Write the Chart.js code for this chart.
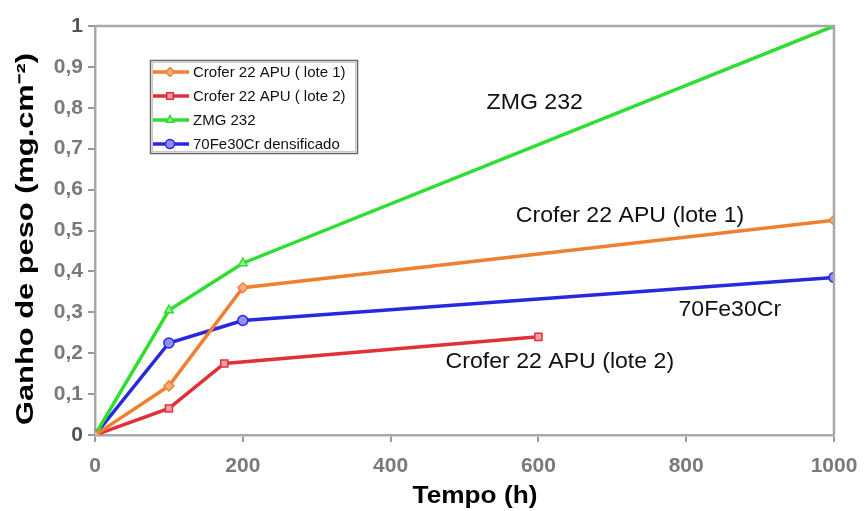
<!DOCTYPE html>
<html><head><meta charset="utf-8">
<script src="https://cdn.jsdelivr.net/npm/chart.js@4"></script>
<style>html,body{margin:0;padding:0;background:#fff;}#wrap{width:864px;height:511px;}</style>
</head><body><div id="wrap"><canvas id="c" width="864" height="511"></canvas></div>
<script>
const seriesNames = ["Crofer 22 APU ( lote 1)", "Crofer 22 APU ( lote 2)", "ZMG 232", "70Fe30Cr densificado"];
const lote1Hours = [0, 100, 200, 1000];
const lote1Gain = [0, 0.12, 0.36, 0.525];
const lote2Hours = [0, 100, 175, 600];
const lote2Gain = [0, 0.065, 0.175, 0.24];
const zmgHours = [0, 100, 200, 1000];
const zmgGain = [0, 0.305, 0.42, 1.0];
const feCrHours = [0, 100, 200, 1000];
const feCrGain = [0, 0.225, 0.28, 0.385];
const xTicks = [0, 200, 400, 600, 800, 1000];
const yTicks = ["0", "0,1", "0,2", "0,3", "0,4", "0,5", "0,6", "0,7", "0,8", "0,9", "1"];
const xTitle = "Tempo (h)";
const yTitle = "Ganho de peso (mg.cm⁻²)";
const annotations = [
  {text: "ZMG 232", x: 595, y: 0.812},
  {text: "Crofer 22 APU (lote 1)", x: 724, y: 0.535},
  {text: "70Fe30Cr", x: 859, y: 0.306},
  {text: "Crofer 22 APU (lote 2)", x: 629, y: 0.178}
];

const colors = ["#EE8030", "#E03038", "#30DD30", "#2828E0"];
const fills = ["#F6B080", "#F4A0A8", "#90F090", "#9090F0"];
const shapes = ["rectRot", "rect", "triangle", "circle"];
const FONT = '"Liberation Sans", Arial, sans-serif';

function pts(xs, ys){ return xs.map((x,i)=>({x:x, y:ys[i]})); }
const allData = [pts(lote1Hours,lote1Gain), pts(lote2Hours,lote2Gain), pts(zmgHours,zmgGain), pts(feCrHours,feCrGain)];

const frame = {
  id: 'frame',
  afterDraw(chart){
    const ctx = chart.ctx, a = chart.chartArea;
    ctx.save();
    ctx.strokeStyle = '#A8A8A8'; ctx.lineWidth = 2.5;
    ctx.beginPath();
    ctx.moveTo(a.left, a.top); ctx.lineTo(a.right, a.top); ctx.lineTo(a.right, a.bottom);
    ctx.stroke();
    // annotations
    ctx.fillStyle = '#111'; ctx.font = '22px ' + FONT;
    ctx.textAlign = 'center'; ctx.textBaseline = 'middle';
    const xs = chart.scales.x, ys = chart.scales.y;
    annotations.forEach(an => {
      ctx.save();
      ctx.translate(xs.getPixelForValue(an.x), ys.getPixelForValue(an.y));
      ctx.scale(1.05, 1);
      ctx.fillText(an.text, 0, 0);
      ctx.restore();
    });
    // axis titles
    ctx.fillStyle = '#000';
    ctx.font = 'bold 23px ' + FONT;
    ctx.save();
    ctx.translate(475, 497);
    ctx.scale(1.14, 1);
    ctx.fillText(xTitle, 0, 0);
    ctx.restore();
    ctx.font = 'bold 23px ' + FONT;
    ctx.save();
    ctx.translate(27, 239);
    ctx.rotate(-Math.PI / 2);
    ctx.scale(372 / ctx.measureText(yTitle).width, 1);
    ctx.fillText(yTitle, 0, 0);
    ctx.restore();
    // legend
    const lx = 150, ly = 60, lw = 207, lh = 93;
    ctx.fillStyle = '#fff'; ctx.fillRect(lx, ly, lw, lh);
    ctx.strokeStyle = '#666'; ctx.lineWidth = 1.5;
    ctx.strokeRect(lx+0.5, ly+0.5, lw, lh);
    ctx.strokeStyle = '#C8C8C8'; ctx.lineWidth = 1;
    ctx.strokeRect(lx+2.5, ly+2.5, lw-4, lh-4);
    ctx.font = '15px ' + FONT;
    ctx.textAlign = 'left';
    seriesNames.forEach((n, i) => {
      const yy = ly + 12 + i * 24;
      ctx.strokeStyle = colors[i]; ctx.lineWidth = 3.5;
      ctx.beginPath(); ctx.moveTo(lx+3, yy); ctx.lineTo(lx+39, yy); ctx.stroke();
      ctx.fillStyle = fills[i]; ctx.strokeStyle = colors[i]; ctx.lineWidth = 1.5;
      Chart.helpers.drawPoint(ctx, {pointStyle: shapes[i], radius: 4.5, borderWidth: 1.5, rotation: 0}, lx+20, yy);
      ctx.fillStyle = '#111';
      ctx.fillText(n, lx+43, yy+1);
    });
    ctx.restore();
  }
};

const tickColor = (c) => (c.index === 0 || c.index === yTicks.length - 1) ? '#555' : '#7A7A7A';

new Chart(document.getElementById('c'), {
  type: 'line',
  data: {
    datasets: allData.map((d, i) => ({
      label: seriesNames[i],
      data: d,
      borderColor: colors[i],
      backgroundColor: fills[i],
      pointBackgroundColor: fills[i],
      pointBorderColor: colors[i],
      pointStyle: shapes[i],
      pointRadius: 5,
      pointBorderWidth: 1.5,
      borderWidth: 3.5,
      tension: 0
    }))
  },
  options: {
    responsive: false,
    animation: false,
    layout: {padding: {top: 26, right: 30, left: 0, bottom: 0}},
    plugins: {legend: {display: false}, tooltip: {enabled: false}},
    scales: {
      x: {
        type: 'linear', min: 0, max: 1000,
        afterBuildTicks: s => { s.ticks = xTicks.map(v => ({value: v})); },
        afterFit: s => { s.height = 76; s.paddingRight = 0; s.paddingLeft = 0; },
        grid: {drawOnChartArea: false, drawTicks: true, tickLength: 7, color: '#999', lineWidth: 2},
        border: {color: '#A8A8A8', width: 2.5},
        ticks: {color: '#7A7A7A', font: {size: 21, weight: 'bold', family: FONT}, padding: 12, maxRotation: 0,
          callback: (v, i) => String(xTicks[i])},
        title: {display: false}
      },
      y: {
        type: 'linear', min: 0, max: 1,
        afterBuildTicks: s => { s.ticks = yTicks.map((t, i) => ({value: i / 10})); },
        afterFit: s => { s.width = 95; s.paddingTop = 0; s.paddingBottom = 0; },
        grid: {drawOnChartArea: false, drawTicks: true, tickLength: 7, color: '#999', lineWidth: 2},
        border: {color: '#A8A8A8', width: 2.5},
        ticks: {color: tickColor, font: {size: 21, weight: 'bold', family: FONT}, padding: 5,
          callback: (v, i) => yTicks[i]},
        title: {display: false}
      }
    }
  },
  plugins: [frame]
});
</script></body></html>
